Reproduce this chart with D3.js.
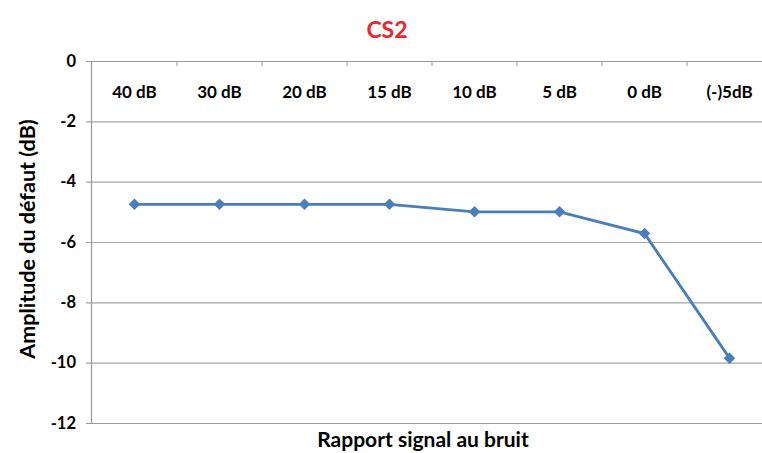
<!DOCTYPE html>
<html>
<head>
<meta charset="utf-8">
<script src="https://cdn.jsdelivr.net/npm/d3@7/dist/d3.min.js"></script>
<style>
  html, body { margin: 0; padding: 0; background: #fff; }
  svg { display: block; font-family: Lato, "Open Sans", sans-serif; }
</style>
</head>
<body>
<svg id="chart" width="762" height="453"></svg>
<script>
// Signal-to-noise ratio levels and defect amplitude (dB)
const categories = ["40 dB", "30 dB", "20 dB", "15 dB", "10 dB", "5 dB", "0 dB", "(-)5dB"];
const amplitude = [-4.75, -4.75, -4.75, -4.75, -5.0, -5.0, -5.72, -9.85];
const yTicks = [0, -2, -4, -6, -8, -10, -12];

const svg = d3.select("#chart");
const W = 762;

const x = d3.scaleBand().domain(categories).range([92, 772]);
const y = d3.scaleLinear().domain([-12, 0]).range([423, 61]);

// horizontal gridlines
svg.append("g").selectAll("line").data(yTicks).join("line")
  .attr("x1", 86).attr("x2", W)
  .attr("y1", d => y(d) + 0.5).attr("y2", d => y(d) + 0.5)
  .attr("stroke", d => (d === 0 || d === -12) ? "#9a9a9a" : "#a6a6a6")
  .attr("stroke-width", 1.2);

// vertical axis line
svg.append("line")
  .attr("x1", 91.5).attr("x2", 91.5).attr("y1", 61).attr("y2", 423)
  .attr("stroke", "#9a9a9a").attr("stroke-width", 1.2);

// category tick marks on the zero line
const bounds = categories.slice(1).map(c => x(c));
svg.append("g").selectAll("line").data(bounds).join("line")
  .attr("x1", d => d).attr("x2", d => d)
  .attr("y1", 61).attr("y2", 66)
  .attr("stroke", "#9a9a9a").attr("stroke-width", 1);

// y tick labels
svg.append("g").selectAll("text").data(yTicks).join("text")
  .attr("x", 76).attr("y", d => y(d))
  .attr("dy", "0.35em").attr("text-anchor", "end")
  .attr("font-size", 16.5).attr("font-weight", "bold").attr("fill", "#000")
  .text(d => d);

// category labels
svg.append("g").selectAll("text").data(categories).join("text")
  .attr("x", d => x(d) + x.bandwidth() / 2).attr("y", 92)
  .attr("dy", "0.35em").attr("text-anchor", "middle")
  .attr("font-size", 17).attr("font-weight", "bold").attr("fill", "#000")
  .text(d => d);

// series line
const line = d3.line()
  .x((d, i) => x(categories[i]) + x.bandwidth() / 2)
  .y(d => y(d));
svg.append("path").datum(amplitude)
  .attr("d", line).attr("fill", "none")
  .attr("stroke", "#4a7ebb").attr("stroke-width", 2.8);

// diamond markers
svg.append("g").selectAll("path").data(amplitude).join("path")
  .attr("transform", (d, i) => `translate(${x(categories[i]) + x.bandwidth() / 2},${y(d)})`)
  .attr("d", d3.symbol().type(d3.symbolDiamond2).size(84))
  .attr("fill", "#4a7ebb");

// titles
svg.append("text")
  .attr("x", 387).attr("y", 30).attr("dy", "0.35em").attr("text-anchor", "middle")
  .attr("font-size", 23).attr("font-weight", "bold").attr("fill", "#e8262b")
  .text("CS2");

svg.append("text")
  .attr("x", 423).attr("y", 440).attr("dy", "0.35em").attr("text-anchor", "middle")
  .attr("font-size", 21).attr("font-weight", "bold").attr("fill", "#000")
  .text("Rapport signal au bruit");

svg.append("text")
  .attr("transform", "translate(27,239) rotate(-90)")
  .attr("dy", "0.35em").attr("text-anchor", "middle")
  .attr("font-size", 21.5).attr("font-weight", "bold").attr("fill", "#000")
  .text("Amplitude du défaut (dB)");
</script>
</body>
</html>
